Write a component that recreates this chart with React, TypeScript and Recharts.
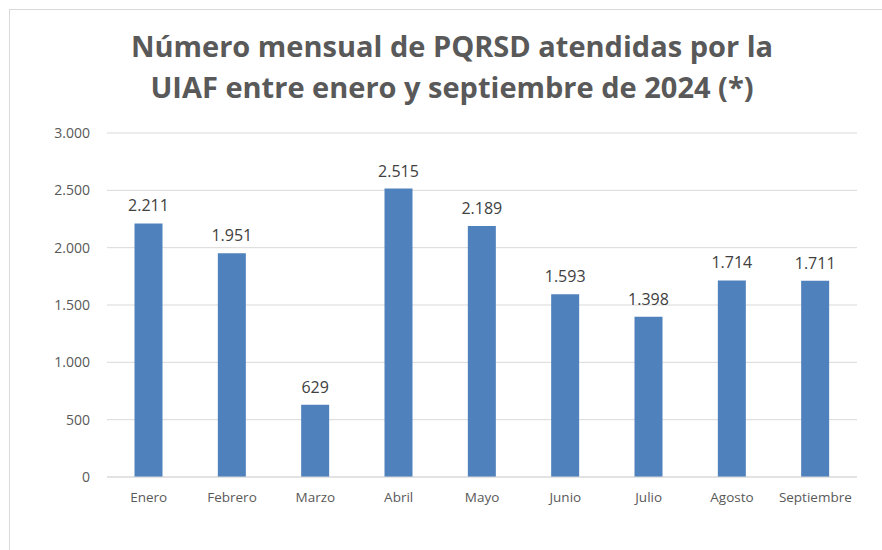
import { Bar, BarChart, CartesianGrid, LabelList, XAxis, YAxis } from "recharts";

const MONTHS = ["Enero", "Febrero", "Marzo", "Abril", "Mayo", "Junio", "Julio", "Agosto", "Septiembre"];
const PQRSD = [2211, 1951, 629, 2515, 2189, 1593, 1398, 1714, 1711];
const Y_TICKS = [0, 500, 1000, 1500, 2000, 2500, 3000];

const GRID = "#d9d9d9";
const TEXT = "#595959";
const BAR = "#4f81bd";
const FONT = "'Open Sans', 'Noto Sans', sans-serif";

const data = MONTHS.map((m, i) => ({ mes: m, valor: PQRSD[i] }));

// 2211 -> "2.211"
const fmt = (n: number) => String(n).replace(/\B(?=(\d{3})+(?!\d))/g, ".");

export default function App() {
  return (
    <div
      style={{
        position: "fixed",
        left: 0,
        top: 0,
        width: 882,
        height: 550,
        background: "#fff",
        overflow: "hidden",
        fontFamily: FONT,
      }}
    >
      <div
        style={{
          position: "absolute",
          left: 9,
          top: 9,
          width: 900,
          height: 560,
          border: "1.5px solid #d9d9d9",
        }}
      />
      <div
        style={{
          position: "absolute",
          left: 0,
          width: 904,
          top: 25,
          textAlign: "center",
          fontSize: 29,
          fontWeight: 700,
          color: TEXT,
          lineHeight: "41px",
        }}
      >
        Número mensual de PQRSD atendidas por la
        <br />
        UIAF entre enero y septiembre de 2024 (*)
      </div>
      <div style={{ position: "absolute", left: 0, top: 0 }}>
        <BarChart
          width={882}
          height={550}
          data={data}
          margin={{ top: 133, right: 25, bottom: 43, left: 10 }}
          barCategoryGap="33%"
        >
          <CartesianGrid stroke={GRID} vertical={false} />
          <XAxis
            dataKey="mes"
            axisLine={{ stroke: GRID }}
            tickLine={false}
            tick={{ fill: TEXT, fontSize: 13.5, fontFamily: FONT }}
            tickMargin={9}
            height={30}
          />
          <YAxis
            domain={[0, 3000]}
            ticks={Y_TICKS}
            tickFormatter={fmt}
            axisLine={false}
            tickLine={false}
            tickSize={0}
            tickMargin={17}
            tick={{ fill: TEXT, fontSize: 14, fontFamily: FONT }}
            width={97}
          />
          <Bar dataKey="valor" fill={BAR} isAnimationActive={false}>
            <LabelList
              dataKey="valor"
              position="top"
              offset={12}
              formatter={(v: any) => fmt(Number(v))}
              style={{ fill: "#404040", fontSize: 16, fontFamily: FONT }}
            />
          </Bar>
        </BarChart>
      </div>
    </div>
  );
}
